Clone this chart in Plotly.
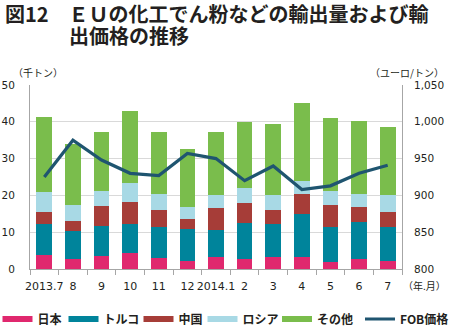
import plotly.graph_objects as go

months = ["2013.7", "8", "9", "10", "11", "12", "2014.1", "2", "3", "4", "5", "6", "7"]
# cumulative tops (thousand tonnes)
top_japan  = [3.8, 2.7, 3.4, 4.3, 3.0, 2.3, 3.25, 2.7, 3.35, 3.25, 1.9, 2.8, 2.2]
top_turkey = [12.1, 10.3, 11.6, 12.2, 11.3, 10.85, 10.5, 12.4, 12.2, 15.0, 11.5, 12.75, 11.4]
top_china  = [15.6, 13.0, 17.2, 18.1, 15.9, 13.5, 16.5, 18.0, 16.1, 20.4, 17.3, 16.8, 15.6]
top_russia = [20.9, 17.45, 21.2, 23.4, 20.3, 16.9, 20.1, 22.0, 20.2, 24.0, 21.25, 20.5, 20.2]
top_other  = [41.2, 33.9, 37.25, 42.9, 37.2, 32.5, 37.2, 39.9, 39.4, 45.0, 41.0, 40.1, 38.6]
fob_price  = [925, 975, 948, 930, 927, 957, 950, 920, 940, 908, 913, 930, 941]

japan = top_japan
turkey = [round(b - a, 2) for a, b in zip(top_japan, top_turkey)]
china = [round(b - a, 2) for a, b in zip(top_turkey, top_china)]
russia = [round(b - a, 2) for a, b in zip(top_china, top_russia)]
other = [round(b - a, 2) for a, b in zip(top_russia, top_other)]

series = [
    ("日本", japan, "#e0286e"),
    ("トルコ", turkey, "#00849b"),
    ("中国", china, "#a63d38"),
    ("ロシア", russia, "#a8d9e5"),
    ("その他", other, "#7abd4c"),
]
line_name = "FOB価格"
line_color = "#1f5570"

TXT = "#231f20"
JP = "Noto Sans CJK JP"
NUM = "DejaVu Sans"

# layout geometry
W, H = 450, 328
ML, MR, MT, MB = 30, 48, 85, 59
PW, PH = W - ML - MR, H - MT - MB


def px(x):
    return (x - ML) / PW


def py(y):
    return (H - MB - y) / PH


fig = go.Figure()
for name, vals, col in series:
    fig.add_trace(go.Bar(x=months, y=vals, name=name, marker=dict(color=col, line=dict(width=0)),
                         showlegend=False))
fig.add_trace(go.Scatter(x=months, y=fob_price, name=line_name, yaxis="y2", mode="lines",
                         line=dict(color=line_color, width=3.2), showlegend=False))

# legend entries (wide swatches like the original)
legend_widths = [21, 30, 30, 29.5, 38, 45]
for i, (name, vals, col) in enumerate(series):
    fig.add_trace(go.Scatter(x=[None], y=[None], mode="lines", name=name,
                             line=dict(color=col, width=6), showlegend=True,
                             legend="legend" if i < 3 else "legend2",
                             legendwidth=legend_widths[i]))
fig.add_trace(go.Scatter(x=[None], y=[None], mode="lines", name=line_name,
                         line=dict(color=line_color, width=3), showlegend=True,
                         legend="legend2", legendwidth=legend_widths[5]))

legend_common = dict(orientation="h", yanchor="middle", y=py(319),
                     font=dict(family=JP, size=12, color=TXT, weight="bold"),
                     entrywidthmode="pixels", itemwidth=30,
                     bgcolor="rgba(0,0,0,0)", traceorder="normal")

fig.update_layout(
    width=W, height=H,
    margin=dict(l=ML, r=MR, t=MT, b=MB, autoexpand=False),
    barmode="stack", bargap=0.45,
    plot_bgcolor="white", paper_bgcolor="white",
    font=dict(family=NUM, size=11, color=TXT),
    xaxis=dict(type="category", categoryorder="array", categoryarray=months,
               showgrid=False, showline=True, linecolor="#a6a6a6", linewidth=1,
               ticks="outside", tickson="boundaries", ticklen=5, tickcolor="#a6a6a6",
               tickangle=0, automargin=False, ticklabelstandoff=7,
               tickfont=dict(family=NUM, size=11, color=TXT)),
    yaxis=dict(range=[0, 50], dtick=10, showgrid=True, gridcolor="#d9d9d9", gridwidth=1,
               showline=True, linecolor="#a6a6a6", zeroline=False, automargin=False,
               ticklabelstandoff=12,
               tickfont=dict(family=NUM, size=10.5, color=TXT)),
    yaxis2=dict(range=[800, 1050], dtick=50, overlaying="y", side="right",
                showgrid=False, showline=True, linecolor="#a6a6a6", zeroline=False,
                automargin=False, ticklabelstandoff=9,
                tickformat=",", tickfont=dict(family=NUM, size=10.5, color=TXT)),
    legend=dict(x=px(-2.5), xanchor="left", **legend_common),
    legend2=dict(x=px(202.5), xanchor="left", **legend_common),
)

fig.add_annotation(text="<b>図12　ＥＵの化工でん粉などの輸出量および輸</b>",
                   xref="paper", yref="paper",
                   x=px(3), y=py(14), xanchor="left", yanchor="middle",
                   showarrow=False, font=dict(family=JP, size=20, color=TXT))
fig.add_annotation(text="<b>出価格の推移</b>",
                   xref="paper", yref="paper",
                   x=px(67), y=py(35.5), xanchor="left", yanchor="middle",
                   showarrow=False, font=dict(family=JP, size=20, color=TXT))
fig.add_annotation(text="（千トン）", xref="paper", yref="paper",
                   x=px(11), y=py(72), xanchor="left", yanchor="middle",
                   showarrow=False, font=dict(family=JP, size=10, color=TXT))
fig.add_annotation(text="（ユーロ/トン）", xref="paper", yref="paper",
                   x=px(446), y=py(72), xanchor="right", yanchor="middle",
                   showarrow=False, font=dict(family=JP, size=10, color=TXT))
fig.add_annotation(text="（年.月）", xref="paper", yref="paper",
                   x=px(448), y=py(285), xanchor="right", yanchor="middle",
                   showarrow=False, font=dict(family=JP, size=10, color=TXT))

fig.write_html("out.html")
